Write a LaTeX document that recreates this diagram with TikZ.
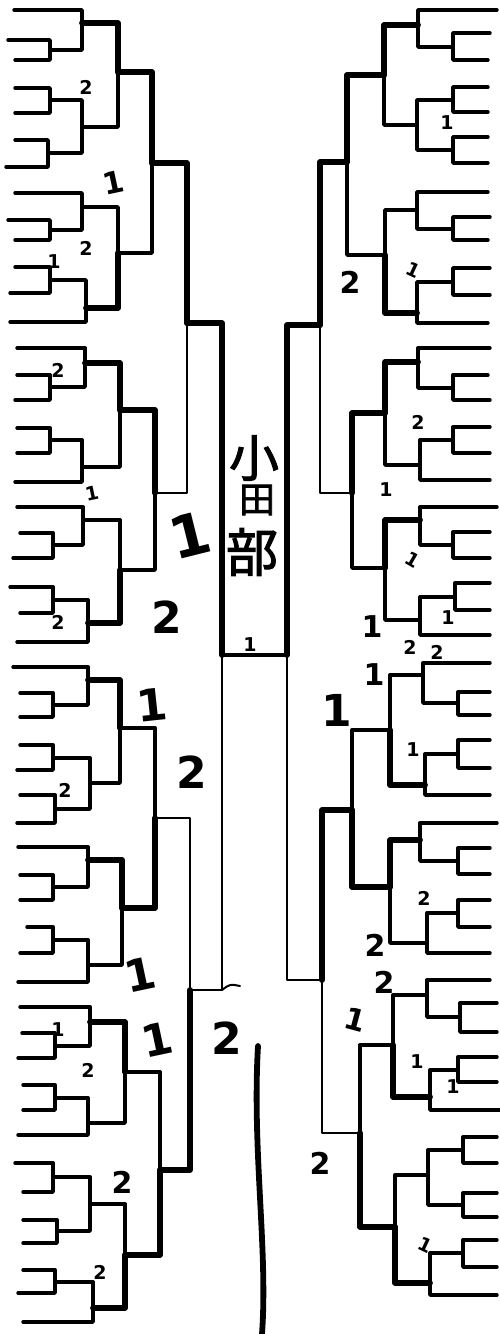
\documentclass[tikz,border=0pt]{standalone}
\usepackage{fontspec}
\newfontfamily\hand{DejaVu Sans}
\newfontfamily\cjk{Noto Sans CJK JP}[AutoFakeBold=2]

\begin{document}
\begin{tikzpicture}[
  x=1pt, y=-1pt,
  plainline/.style={line width=3.4pt, line cap=round, line join=round},
  winline/.style={line width=5.8pt, line cap=round, line join=round},
  faintline/.style={line width=2pt, line cap=round, line join=round},
  smallnum/.style={font=\hand\bfseries\fontsize{19}{19}\selectfont, inner sep=0pt},
  midnum/.style={font=\hand\bfseries\fontsize{30}{30}\selectfont, inner sep=0pt},
  bignum/.style={font=\hand\bfseries\fontsize{44}{44}\selectfont, inner sep=0pt},
  tallnum/.style={font=\hand\bfseries\fontsize{58}{58}\selectfont, inner sep=0pt},
  namechar/.style={font=\cjk\bfseries, inner sep=0pt}
]
  \useasboundingbox (0,0) rectangle (500,1334);

  % left half: entries
  \foreach \n/\x/\y in {e1/14/10, e2/8/40, e3/15/60, e4/15/88, e5/15/113,
      e6/15/140, e7/6/167, e8/15/193, e9/8/220, e10/15/240, e11/15/267,
      e12/10/293, e13/10/322, e14/17/348, e15/17/375, e16/15/400,
      e17/17/428, e18/17/453, e19/15/482, e20/17/507, e21/20/533,
      e22/13/558, e23/10/587, e24/20/613, e25/17/642, e26/13/667,
      e27/20/693, e28/20/717, e29/20/745, e30/17/770, e31/20/795,
      e32/17/823, e33/18/847, e34/20/875, e35/20/900, e36/27/927,
      e37/20/953, e38/18/982, e39/20/1007, e40/22/1033, e41/18/1058,
      e42/23/1085, e43/23/1110, e44/18/1135, e45/15/1163, e46/23/1192,
      e47/23/1220, e48/23/1243, e49/23/1270, e50/18/1293, e51/23/1322} {
    \coordinate (\n) at (\x,\y);
  }

  % right half: entries
  \foreach \n/\x/\y in {r1/497/10, r2/490/33, r3/488/60, r4/488/87,
      r5/488/112, r6/488/137, r7/488/163, r8/488/192, r9/490/217,
      r10/488/240, r11/490/268, r12/490/295, r13/488/323, r14/490/348,
      r15/488/375, r16/490/400, r17/490/427, r18/490/453, r19/490/480,
      r20/497/507, r21/490/532, r22/490/558, r23/490/583, r24/490/610,
      r25/490/635, r26/490/663, r27/490/692, r28/490/715, r29/490/740,
      r30/490/768, r31/490/795, r32/497/823, r33/490/848, r34/490/874,
      r35/490/900, r36/490/927, r37/490/953, r38/490/980, r39/497/1003,
      r40/497/1032, r41/497/1057, r42/497/1082, r43/500/1110,
      r44/497/1137, r45/497/1163, r46/497/1193, r47/497/1217,
      r48/497/1240, r49/497/1267, r50/497/1295} {
    \coordinate (\n) at (\x,\y);
  }

  % first two rounds
  \foreach \m/\x/\y/\a/\b in {a1/50/50/e2/e3, a2/50/100/e4/e5,
      a3/48/153/e6/e7, a4/50/230/e9/e10, a5/50/280/e11/e12,
      a6/50/387/e15/e16, a7/50/440/e17/e18, a8/53/545/e21/e22,
      a9/53/600/e23/e24, a10/53/705/e27/e28, a11/53/758/e29/e30,
      a12/55/809/e31/e32, a13/53/887/e34/e35, a14/53/940/e36/e37,
      a15/55/1046/e40/e41, a16/55/1098/e42/e43, a17/53/1177/e45/e46,
      a18/57/1231/e47/e48, a19/55/1282/e49/e50,
      b1/82/23/e1/a1, b2/82/127/a2/a3, b3/82/207/e8/a4, b4/86/308/a5/e13,
      b5/85/363/e14/a6, b6/82/467/a7/e19, b7/83/520/e20/a8,
      b8/88/623/a9/e25, b9/88/680/e26/a10, b10/90/783/a11/a12,
      b11/88/860/e33/a13, b12/88/965/a14/e38, b13/90/1022/e39/a15,
      b14/88/1123/a16/e44, b15/90/1204/a17/a18, b16/93/1308/a19/e51,
      ra1/453/47/r2/r3, ra2/453/100/r4/r5, ra3/453/150/r6/r7,
      ra4/453/229/r9/r10, ra5/453/282/r11/r12, ra6/453/388/r15/r16,
      ra7/453/440/r17/r18, ra8/453/545/r21/r22, ra9/455/597/r23/r24,
      ra10/458/703/r27/r28, ra11/458/754/r29/r30, ra12/458/861/r33/r34,
      ra13/458/913/r35/r36, ra14/460/1017/r39/r40, ra15/458/1070/r41/r42,
      ra16/463/1150/r44/r45, ra17/463/1205/r46/r47, ra18/463/1253/r48/r49,
      rb1/418/25/r1/ra1, rb2/417/125/ra2/ra3, rb3/417/210/r8/ra4,
      rb4/417/313/ra5/r13, rb5/418/362/r14/ra6, rb6/420/465/ra7/r19,
      rb7/420/520/r20/ra8, rb8/420/620/ra9/r25, rb9/423/675/r26/ra10,
      rb10/425/785/ra11/r31, rb11/420/840/r32/ra12, rb12/427/943/ra13/r37,
      rb13/427/995/r38/ra14, rb14/430/1097/ra15/r43,
      rb15/428/1175/ra16/ra17, rb16/430/1283/ra18/r50} {
    \coordinate (\m) at (\x,\y);
    \draw[plainline] (\a) -| (\m);
    \draw[plainline] (\b) -| (\m);
  }

  % later rounds, winner first
  \foreach \m/\x/\y/\a/\b in {c1/118/72/b1/b2, c2/118/253/b4/b3,
      c3/120/410/b5/b6, c4/120/570/b8/b7, c5/120/728/b9/b10,
      c6/122/908/b11/b12, c7/125/1072/b13/b14, c8/125/1255/b16/b15,
      d1/152/163/c1/c2, d2/155/493/c3/c4, d3/155/818/c6/c5,
      d4/160/1170/c8/c7,
      rc1/384/75/rb1/rb2, rc2/385/255/rb4/rb3, rc3/385/413/rb5/rb6,
      rc4/385/568/rb7/rb8, rc5/390/730/rb10/rb9, rc6/390/887/rb11/rb12,
      rc7/393/1045/rb14/rb13, rc8/395/1227/rb16/rb15,
      rd1/347/162/rc1/rc2, rd2/352/493/rc3/rc4, rd3/352/810/rc6/rc5,
      rd4/360/1133/rc8/rc7} {
    \coordinate (\m) at (\x,\y);
    \draw[winline] (\a) -| (\m);
    \draw[plainline] (\b) -| (\m);
  }

  % semifinals and final
  \foreach \m/\x/\y/\a/\b in {LT/187/323/d1/d2, LB/190/990/d4/d3,
      RT/320/325/rd1/rd2, RB/322/980/rd3/rd4,
      LF/222/655/LT/LB, RF/287/655/RT/RB} {
    \coordinate (\m) at (\x,\y);
    \draw[winline] (\a) -| (\m);
    \draw[faintline] (\b) -| (\m);
  }
  \draw[plainline] (LF) -- (RF);
  \draw[faintline] (LF |- LB) .. controls (230,984) .. (240,986);

  \coordinate (tailtop) at (258,1046);
  \coordinate (tailend) at (262,1334);
  \draw[winline] (tailtop) .. controls (252,1150) and (268,1250) .. (tailend);

  % champion
  \node[namechar, font=\cjk\bfseries\fontsize{50}{50}\selectfont] (ko) at (254,458) {小};
  \node[namechar, font=\cjk\bfseries\fontsize{36}{36}\selectfont] (ta) at (257,500) {田};
  \node[namechar, font=\cjk\bfseries\fontsize{52}{52}\selectfont] (be) at (252,552) {部};

  % scores
  \foreach \t/\x/\y/\s/\r [count=\k] in {2/86/87/smallnum/0,
      1/113/183/midnum/12, 2/86/248/smallnum/0, 1/54/262/smallnum/0,
      2/58/370/smallnum/0, 1/92/493/smallnum/12, 1/190/535/tallnum/14,
      2/58/622/smallnum/0, 2/167/617/bignum/0, 1/152/705/bignum/6,
      2/65/790/smallnum/0, 2/192/772/bignum/0, 1/140/975/bignum/12,
      1/157/1040/bignum/12, 2/88/1070/smallnum/0, 1/58/1030/smallnum/0,
      2/122/1182/midnum/0, 2/100/1272/smallnum/0, 1/250/645/smallnum/0,
      2/227/1038/bignum/0,
      1/447/123/smallnum/0, 1/413/270/smallnum/-25, 2/350/282/midnum/0,
      2/418/422/smallnum/0, 1/386/490/smallnum/0, 1/413/560/smallnum/-30,
      1/448/618/smallnum/0, 2/410/647/smallnum/0, 2/437/652/smallnum/0,
      1/372/627/midnum/0, 1/374/675/midnum/0, 1/337/710/bignum/0,
      1/413/750/smallnum/0, 2/424/898/smallnum/0, 2/375/945/midnum/0,
      2/384/982/midnum/0, 1/355/1020/midnum/-15, 1/417/1062/smallnum/0,
      1/453/1087/smallnum/0, 2/320/1163/midnum/0, 1/425/1245/smallnum/-25} {
    \node[\s, rotate=\r] (sc\k) at (\x,\y) {\t};
  }
\end{tikzpicture}
\end{document}
